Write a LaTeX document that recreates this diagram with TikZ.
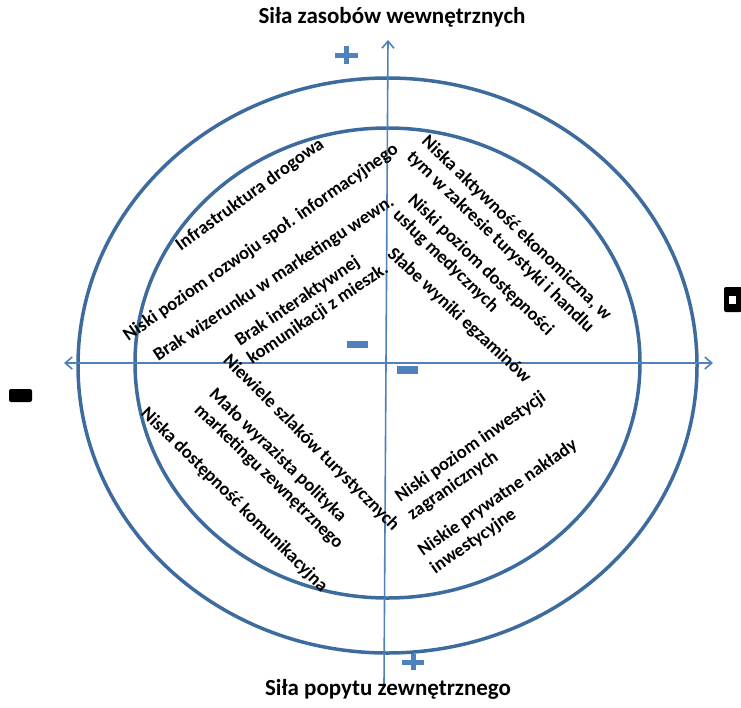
\documentclass[tikz,border=0pt]{standalone}
\usepackage{fontspec}
\setmainfont{Carlito}
\usetikzlibrary{arrows.meta}
\definecolor{ringblue}{HTML}{3E6B9E}
\definecolor{axisblue}{HTML}{4F81BD}
\tikzset{
  ring/.style={draw=ringblue, line width=3.5pt},
  axis/.style={draw=axisblue, line width=1.6pt, -{Straight Barb[length=7pt,width=12pt,line width=1.6pt]}},
  sign/.style={fill=axisblue, draw=none},
  lbl/.style={font=\bfseries\fontsize{18.5}{21.5}\selectfont, align=left, inner sep=0pt},
  title/.style={font=\bfseries\fontsize{23}{26}\selectfont, inner sep=0pt},
  blob/.style={fill=black, draw=none}
}
\begin{document}
\begin{tikzpicture}[x=1pt,y=-1pt]
\useasboundingbox (0,0) rectangle (741,707);
% rings
\draw[ring] (387.5,365.5) ellipse [x radius=309.5, y radius=287.5];
\draw[ring] (387.5,363) ellipse [x radius=252.5, y radius=235];
% axes
\coordinate (cb) at (384,685);
\coordinate (ct) at (388,40);
\coordinate (cl) at (64,363);
\coordinate (cr) at (713,363);
\coordinate (c0) at (386,363);
\draw[axis] (cb) -- (ct);
\draw[axis] (c0) -- (cl);
\draw[axis] (c0) -- (cr);
% plus and minus signs
\fill[sign] (335,52.5) rectangle (358,57.5);
\fill[sign] (344,46) rectangle (349,64);
\fill[sign] (402,659.5) rectangle (424,664.5);
\fill[sign] (410.5,654) rectangle (415.5,670);
\fill[sign] (347,341) rectangle (368,348);
\fill[sign] (397,366) rectangle (418,374);
% titles
\node[title] (top) at (392,17) {Siła zasobów wewnętrznych};
\node[title] (bot) at (388,689) {Siła popytu zewnętrznego};
% garbled side labels
\fill[blob, rounded corners=2pt] (9,389) rectangle (32,402);
\fill[blob, rounded corners=2pt] (724,287) rectangle (742,312);
\fill[white] (729,296) rectangle (736,304);
% upper left
\node[lbl, rotate=36] (a1) at (250,195) {Infrastruktura drogowa};
\node[lbl, rotate=35] (a2) at (261,243) {Niski poziom rozwoju społ. informacyjnego};
\node[lbl, rotate=33.5] (a3) at (274,279) {Brak wizerunku w marketingu wewn.};
\node[lbl, rotate=34] (a4) at (312,305) {Brak interaktywnej\\komunikacji z mieszk.};
% upper right
\node[lbl, rotate=-44] (b1) at (509,236) {Niska aktywność ekonomiczna, w\\tym w zakresie turystyki i handlu};
\node[lbl, rotate=-44] (b2) at (473,273) {Niski poziom dostępności\\usług medycznych};
\node[lbl, rotate=-43] (b3) at (459,316) {Słabe wyniki egzaminów};
% lower left
\node[lbl, rotate=-45] (c1) at (311,443) {Niewiele szlaków turystycznych};
\node[lbl, rotate=-44] (c2) at (276,469) {Mało wyrazista polityka\\marketingu zewnętrznego};
\node[lbl, rotate=-44.5] (c3) at (234,500) {Niska dostępność komunikacyjna};
% lower right
\node[lbl, rotate=35] (d1) at (477,456) {Niski poziom inwestycji\\zagranicznych};
\node[lbl, rotate=35] (d2) at (504,507) {Niskie prywatne nakłady\\inwestycyjne};
\end{tikzpicture}
\end{document}
